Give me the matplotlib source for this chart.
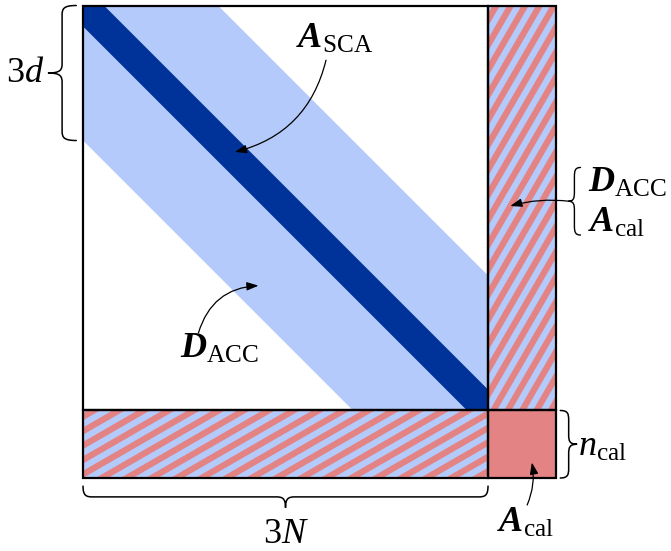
import numpy as np
import matplotlib
matplotlib.use("Agg")
import matplotlib.pyplot as plt
from matplotlib.patches import Polygon, Rectangle, FancyArrowPatch, PathPatch
from matplotlib.path import Path

plt.rcParams["mathtext.fontset"] = "custom"
plt.rcParams["mathtext.rm"] = "Liberation Serif"
plt.rcParams["mathtext.it"] = "Liberation Serif:italic"
plt.rcParams["mathtext.bf"] = "Liberation Serif:bold:italic"

# block sizes (in units of one calibration block)
n_main = 6.0        # 3N
n_cal = 1.0         # n_cal
band_half = 2.0     # 3d, half-width of the ACC band
diag_half = 0.31    # half-width of the SCA diagonal

labels = {
    "sca": r"$\mathbf{A}_{\mathrm{SCA}}$",
    "acc": r"$\mathbf{D}_{\mathrm{ACC}}$",
    "cal": r"$\mathbf{A}_{\mathrm{cal}}$",
    "side": r"$\mathbf{D}_{\mathrm{ACC}}$",
    "ncal": r"$n_{\mathrm{cal}}$",
    "threeN": r"$3N$",
    "threed": r"$3d$",
}

light_blue = "#b3cafa"
dark_blue = "#003399"
red = "#e38383"

fig = plt.figure(figsize=(6.71, 5.51), dpi=100)
ax = fig.add_axes([0, 0, 1, 1])
ax.set_xlim(-1.23, 8.711)
ax.set_ylim(-1.081, 7.081)
ax.set_aspect("equal")
ax.axis("off")

top = n_cal + n_main
right = n_main


def band(w):
    return [(0, top), (w, top), (right, n_cal + w), (right, n_cal),
            (right - w, n_cal), (0, top - w)]


ax.add_patch(Polygon(band(band_half), closed=True, fc=light_blue, ec="none"))
ax.add_patch(Polygon(band(diag_half), closed=True, fc=dark_blue, ec="none"))


def hatched(x0, y0, w, h, angle, period=0.185):
    rect = Rectangle((x0, y0), w, h, fc=light_blue, ec="none")
    ax.add_patch(rect)
    t = np.radians(angle)
    d = np.array([np.cos(t), np.sin(t)])
    n = np.array([-np.sin(t), np.cos(t)])
    corners = np.array([[x0, y0], [x0 + w, y0], [x0, y0 + h], [x0 + w, y0 + h]])
    proj = corners @ n
    big = 60
    for k in range(int(np.floor(proj.min() / period)) - 1, int(np.ceil(proj.max() / period)) + 1):
        c = k * period * n
        c2 = c + 0.5 * period * n
        pts = [c - big * d, c + big * d, c2 + big * d, c2 - big * d]
        p = Polygon(pts, closed=True, fc=red, ec="none")
        ax.add_patch(p)
        p.set_clip_path(rect)


hatched(0, 0, n_main, n_cal, 30)
hatched(n_main, n_cal, n_cal, n_main, 60)
ax.add_patch(Rectangle((n_main, 0), n_cal, n_cal, fc=red, ec="none"))

for (x0, y0, w, h) in [(0, n_cal, n_main, n_main), (n_main, n_cal, n_cal, n_main),
                       (0, 0, n_main, n_cal), (n_main, 0, n_cal, n_cal)]:
    ax.add_patch(Rectangle((x0, y0), w, h, fc="none", ec="black", lw=1.6, zorder=5))


def brace(p1, p2, h, lw=1.1):
    p1 = np.array(p1, float)
    p2 = np.array(p2, float)
    L = np.linalg.norm(p2 - p1)
    s = (p2 - p1) / L
    nrm = np.array([s[1], -s[0]])  # tip side: right of p1->p2
    a = min(0.14, L / 6)
    loc = [(0, 0), (0, 0.45 * h), (0.35 * a, 0.5 * h), (a, 0.5 * h),
           (L / 2 - a, 0.5 * h),
           (L / 2 - 0.35 * a, 0.5 * h), (L / 2, 0.55 * h), (L / 2, h),
           (L / 2, 0.55 * h), (L / 2 + 0.35 * a, 0.5 * h), (L / 2 + a, 0.5 * h),
           (L - a, 0.5 * h),
           (L - 0.35 * a, 0.5 * h), (L, 0.45 * h), (L, 0)]
    codes = [Path.MOVETO, Path.CURVE4, Path.CURVE4, Path.CURVE4,
             Path.LINETO,
             Path.CURVE4, Path.CURVE4, Path.CURVE4,
             Path.CURVE4, Path.CURVE4, Path.CURVE4,
             Path.LINETO,
             Path.CURVE4, Path.CURVE4, Path.CURVE4]
    verts = [p1 + u * s + v * nrm for u, v in loc]
    ax.add_patch(PathPatch(Path(verts, codes), fc="none", ec="black", lw=lw,
                           capstyle="round"))


brace((-0.1, top), (-0.1, top - band_half), 0.42)
brace((0, -0.12), (n_main, -0.12), 0.32)
brace((7.07, n_cal), (7.07, 0), -0.25)
brace((7.37, 4.6), (7.37, 3.6), 0.18, lw=1.0)

fs = 26
ax.text(3.73, 6.37, labels["sca"], fontsize=fs, ha="center", va="baseline")
ax.text(2.03, 1.78, labels["acc"], fontsize=fs, ha="center", va="baseline")
ax.text(6.55, -0.8, labels["cal"], fontsize=fs, ha="center", va="baseline")
ax.text(7.48, 4.24, labels["side"], fontsize=fs, ha="left", va="baseline")
ax.text(7.48, 3.65, labels["cal"], fontsize=fs, ha="left", va="baseline")
ax.text(7.33, 0.33, labels["ncal"], fontsize=fs, ha="left", va="baseline")
ax.text(3.0, -0.96, labels["threeN"], fontsize=fs, ha="center", va="baseline")
ax.text(-0.58, 5.87, labels["threed"], fontsize=fs, ha="right", va="baseline")


def arrow(p1, p2, rad):
    ax.add_patch(FancyArrowPatch(p1, p2, connectionstyle=f"arc3,rad={rad}",
                                 arrowstyle="-|>,head_length=0.5,head_width=0.18",
                                 mutation_scale=14, lw=0.9, color="black",
                                 shrinkA=0, shrinkB=0, zorder=6))


arrow((3.6, 6.19), (2.25, 4.83), -0.3)
arrow((1.71, 2.15), (2.6, 2.85), -0.35)
arrow((6.58, -0.4), (6.65, 0.23), 0.15)
arrow((7.2, 4.1), (6.33, 4.03), 0.1)

fig.savefig("out.png", dpi=100)
